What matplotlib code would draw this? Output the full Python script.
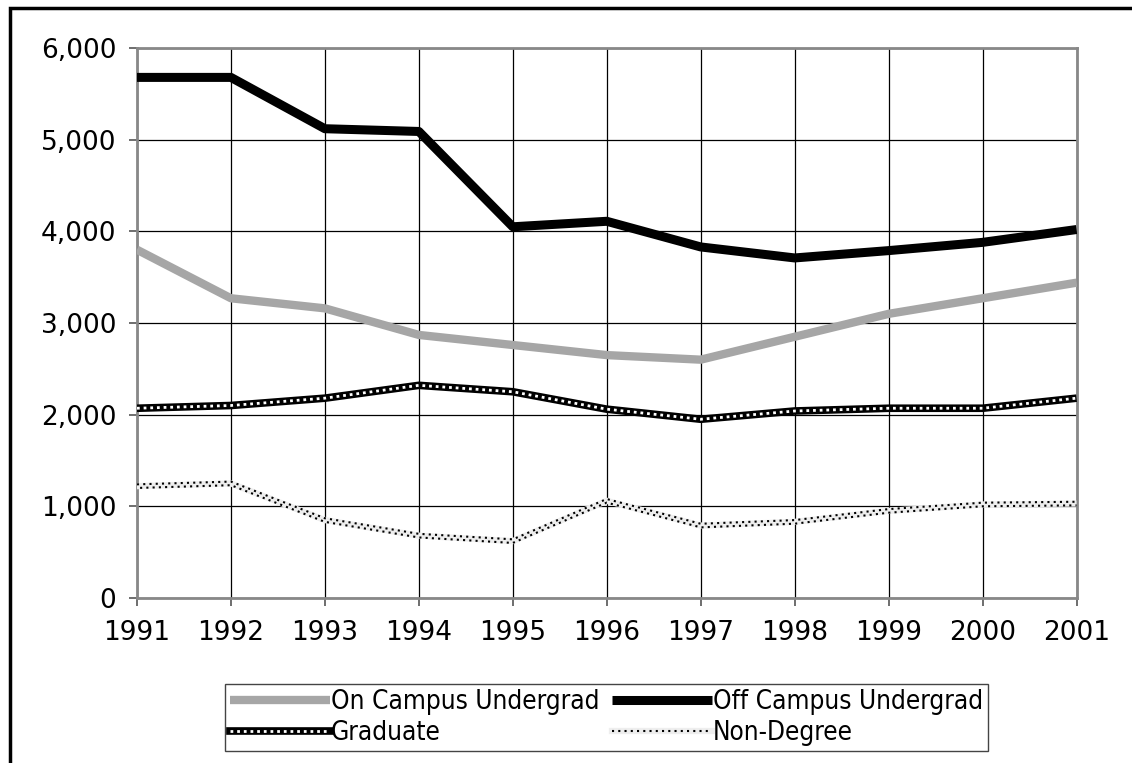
import matplotlib.pyplot as plt
from matplotlib import ticker
from matplotlib.lines import Line2D
from matplotlib.transforms import offset_copy

years = [1991, 1992, 1993, 1994, 1995, 1996, 1997, 1998, 1999, 2000, 2001]
on_campus = [3800, 3270, 3160, 2870, 2760, 2650, 2600, 2850, 3100, 3270, 3440]
off_campus = [5680, 5680, 5120, 5090, 4050, 4110, 3830, 3710, 3790, 3880, 4020]
graduate = [2070, 2100, 2180, 2320, 2250, 2060, 1950, 2040, 2070, 2070, 2180]
non_degree = [1220, 1250, 850, 680, 620, 1060, 790, 830, 950, 1020, 1030]
labels = ['On Campus Undergrad', 'Off Campus Undergrad', 'Graduate', 'Non-Degree']

fig = plt.figure(figsize=(11.32, 7.63), dpi=100)
ax = fig.add_axes([0.121, 0.2163, 0.830, 0.7207])

# outer frame: only left and top edges visible
fig.lines.append(Line2D([0.009, 0.009, 1.0], [0.0, 0.989, 0.989], transform=fig.transFigure,
                        color='black', lw=2.5, solid_joinstyle='miter'))

l_on, = ax.plot(years, on_campus, color='#a6a6a6', lw=6, solid_capstyle='butt', zorder=3)
l_off, = ax.plot(years, off_campus, color='black', lw=6.5, solid_capstyle='butt', zorder=4)

# graduate: black band with small white squares
g1, = ax.plot(years, graduate, color='black', lw=5.5, solid_capstyle='butt', zorder=3)
g2, = ax.plot(years, graduate, color='white', lw=2, linestyle=(0, (1, 1.4)),
              dash_capstyle='butt', zorder=3.1)

# non-degree: two staggered rows of small dots
up = offset_copy(ax.transData, fig=fig, x=0, y=1.3, units='points')
dn = offset_copy(ax.transData, fig=fig, x=0, y=-1.3, units='points')
n0, = ax.plot(years, non_degree, color='#eeeeee', lw=4.5, solid_capstyle='butt', zorder=3)
n1, = ax.plot(years, non_degree, color='black', lw=1.5, linestyle=(0, (1, 2)),
              dash_capstyle='butt', transform=up, zorder=3.1)
n2, = ax.plot(years, non_degree, color='black', lw=1.5, linestyle=(1.5, (1, 2)),
              dash_capstyle='butt', transform=dn, zorder=3.1)

ax.set_xlim(1991, 2001)
ax.set_ylim(0, 6000)
ax.xaxis.set_major_locator(ticker.FixedLocator(years))
ax.xaxis.set_major_formatter(ticker.FormatStrFormatter('%d'))
ax.yaxis.set_major_locator(ticker.MultipleLocator(1000))
ax.yaxis.set_major_formatter(ticker.FuncFormatter(lambda v, p: f'{int(v):,}'))
ax.grid(True, color='black', lw=0.9)
ax.set_axisbelow(True)
for s in ax.spines.values():
	s.set_color('#888888')
	s.set_linewidth(2)
ax.tick_params(direction='out', length=6, width=1.2, color='#555555',
               labelsize=19, pad=9)
ax.tick_params(axis='x', pad=10)

lg1 = Line2D([], [], color='black', lw=5.5)
lg2 = Line2D([], [], color='white', lw=2, linestyle=(0, (1, 1.4)), dash_capstyle='butt')
ln0 = Line2D([], [], color='#eeeeee', lw=4.5)
ln1 = Line2D([], [], color='black', lw=1.5, linestyle=(0, (1, 2)), dash_capstyle='butt')

fig.legend([l_on, (lg1, lg2), l_off, (ln0, ln1)],
           [labels[0], labels[2], labels[1], labels[3]], loc='center',
           bbox_to_anchor=(0.536, 0.0596), ncol=2, frameon=True, fancybox=False,
           edgecolor='#444444', framealpha=1, handlelength=3.8, handletextpad=0.05,
           columnspacing=0.5, borderpad=0.2, labelspacing=0.2, borderaxespad=0,
           prop={'family': 'DejaVu Sans', 'stretch': 'condensed', 'size': 18.8})

fig.savefig('out.png', dpi=100)
